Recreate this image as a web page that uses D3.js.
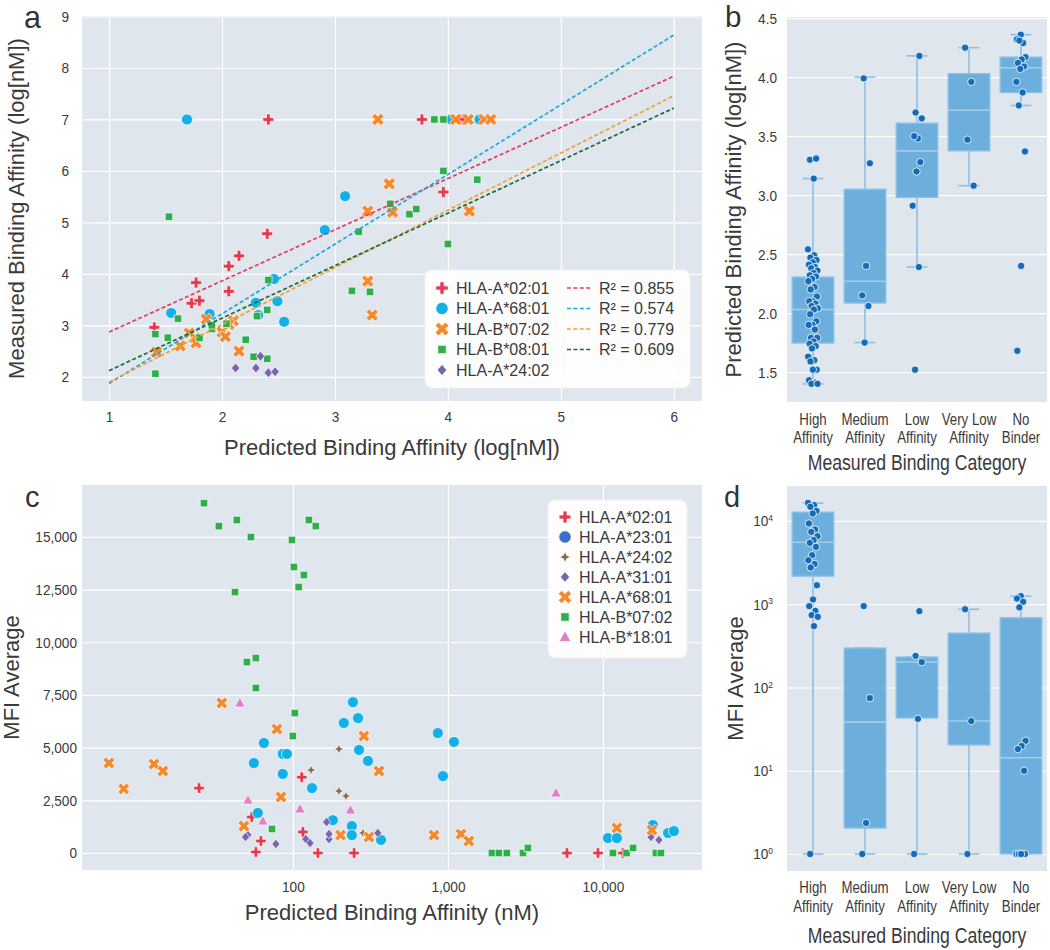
<!DOCTYPE html>
<html><head><meta charset="utf-8">
<script src="https://cdn.jsdelivr.net/npm/d3@7"></script>
<style>body{margin:0;background:#fff;} svg{display:block;}</style>
</head><body>
<svg id="chart" width="1050" height="950"></svg>
<script>
// ---------------- DATA ----------------
// Panel a: [predicted log nM, measured log nM]
const aA0201 = [[2.41,7.0],[3.77,7.0],[4.10,7.0],[4.14,7.0],[3.96,5.59],[2.40,4.78],[2.06,4.15],[2.15,4.35],[1.77,3.83],[1.73,3.43],[1.80,3.48],[2.06,3.66],[1.40,2.96]];
const aA6801 = [[1.69,7.0],[4.03,7.0],[4.28,7.0],[3.09,5.51],[2.91,4.85],[2.46,3.90],[2.49,3.47],[2.55,3.07],[2.30,3.44],[2.32,3.20],[1.55,3.24],[1.89,3.22]];
const aB0702 = [[3.38,7.0],[4.07,7.0],[4.18,7.0],[4.32,7.0],[4.38,7.0],[3.48,5.75],[3.29,5.22],[3.51,5.20],[4.19,5.22],[3.29,3.86],[3.33,3.20],[1.42,2.48],[1.63,2.60],[1.71,2.85],[1.76,2.76],[1.77,2.66],[1.86,3.12],[2.00,2.87],[2.03,2.78],[2.10,3.09],[2.06,3.02],[2.15,2.50]];
const aB0801 = [[1.53,5.11],[3.88,7.0],[3.96,7.0],[3.96,6.0],[4.26,5.83],[3.49,5.36],[3.66,5.16],[3.72,5.26],[3.21,4.82],[4.00,4.58],[3.15,3.67],[3.31,3.65],[2.41,3.88],[2.40,3.30],[2.31,3.18],[1.61,3.13],[1.41,2.83],[1.52,2.76],[1.41,2.06],[1.91,2.93],[1.91,3.00],[2.04,3.03],[2.21,2.72],[2.28,2.39],[2.40,2.35],[1.80,2.76]];
const aA2402 = [[2.34,2.40],[2.12,2.17],[2.30,2.17],[2.41,2.08],[2.47,2.10]];
const aFitSlope = [0.994, 1.354, 1.112, 1.020];
const aFitIntercept = [1.876, 0.516, 0.788, 1.100];
const aFitR2 = ["0.855", "0.574", "0.779", "0.609"];
const aXTicks = [1,2,3,4,5,6];
const aYTicks = [2,3,4,5,6,7,8,9];

// Panel b: predicted log nM by measured category
const categories = ["High Affinity","Medium Affinity","Low Affinity","Very Low Affinity","No Binder"];
const catLabels = [["High","Affinity"],["Medium","Affinity"],["Low","Affinity"],["Very Low","Affinity"],["No","Binder"]];
const bQ1 = [1.746, 2.085, 2.98, 3.375, 3.87];
const bMedian = [2.03, 2.27, 3.375, 3.72, 4.08];
const bQ3 = [2.305, 3.05, 3.61, 4.03, 4.17];
const bWhiskerLo = [1.40, 1.75, 2.39, 3.08, 3.76];
const bWhiskerHi = [3.14, 4.00, 4.18, 4.25, 4.36];
const bHigh = [2.54,2.49,2.47,2.45,2.43,2.41,2.39,2.38,2.36,2.34,2.32,2.31,2.29,2.27,2.22,2.20,2.14,2.10,2.10,2.08,2.06,2.04,2.03,1.99,1.93,1.90,1.90,1.86,1.79,1.79,1.76,1.74,1.72,1.70,1.63,1.60,1.59,1.52,1.52,1.43,1.41,1.40,1.40,3.14,3.30,3.31];
const bMedium = [3.99,3.27,2.40,2.15,2.06,1.75];
const bLow = [4.18,3.70,3.65,3.48,3.50,3.28,3.20,2.91,2.39,1.52];
const bVeryLow = [4.25,3.96,3.47,3.08];
const bNoBinder = [4.36,4.32,4.29,4.31,4.17,4.15,4.12,4.09,4.07,3.96,3.87,3.76,3.37,2.40,1.68];
const bYTicks = [1.5,2.0,2.5,3.0,3.5,4.0,4.5];

// Panel c: [predicted nM, MFI average]
const cA0201 = [[24.8,3080],[114,3600],[54.3,1710],[62.2,570],[57.7,50],[116,1000],[145,0],[248,0],[5860,0],[9290,0],[13450,0]];
const cA2301 = [[65,5220],[56,4270],[86,4700],[91.5,4700],[86,3750],[132.7,3080],[59.4,1900],[181,1560],[244,7160],[263,6400],[213,6170],[267,4890],[305,4370],[240,1280],[240,850],[370,620],[861,5690],[1094,5270],[929,3650],[10770,710],[12300,710],[21000,1330],[26300,950],[28700,1040]];
const cA2402 = [[198,4930],[131,3940],[198,2940],[220,2700],[283,950]];
const cA3101 = [[51.3,850],[49.5,760],[77.7,430],[121,660],[129,470],[165,1470],[171,660],[171,900],[353,950],[20400,760],[22960,620]];
const cA6801 = [[6.5,4270],[8.1,3040],[12.7,4220],[14.5,3890],[34.8,7120],[78.9,5880],[83.8,2660],[48.3,1280],[203,850],[287,5550],[359,3890],[309,760],[813,850],[1214,900],[1365,570],[12300,1190],[20700,1090]];
const cB0702 = [[26.7,16600],[33.3,15510],[43.5,15800],[53.6,14990],[42.3,12380],[50.5,9060],[57.7,9250],[57.7,7830],[98.6,14850],[101.5,13570],[117.8,13190],[109,12620],[126.8,15800],[140.6,15510],[103,6640],[100,5550],[73.3,1140],[1923,0],[2133,0],[2400,0],[3048,0],[3280,240],[11600,0],[14200,0],[15640,240],[21960,0],[23650,0]];
const cB1801 = [[45.5,7120],[51.3,2510],[64,1520],[111,2090],[235,2040],[4980,2850]];
const cXTicks = [100,1000,10000];
const cYTicks = [0,2500,5000,7500,10000,12500,15000];

// Panel d: MFI average by measured category
const dQ1 = [2175, 2.05, 43, 20.4, 1];
const dMedian = [5560, 38.4, 202, 39.5, 14.3];
const dQ3 = [12760, 297, 232, 450, 687];
const dWhiskerLo = [1, 1, 1, 1, 1];
const dWhiskerHi = [16370, 297, 232, 870, 1250];
const dHigh = [16500,15500,14800,13200,12300,9330,7900,7400,6560,5890,5460,4890,3880,3380,3030,2760,1690,1140,948,832,740,706,546,1];
const dMedium = [950,74.6,2.36,1];
const dLow = [826,240,202,42,1];
const dVeryLow = [870,39.5,1];
const dNoBinder = [1250,1170,1070,916,22.9,19.8,18.2,10,1,1,1,1,1,1];
const dYTicks = [1,10,100,1000,10000];

// ---------------- STYLE ----------------
const BG = "#dfe6ee";
const TEXT = "#3a3a3a";
const LABEL_FONT = "'Liberation Sans', Arial, Helvetica, sans-serif";
const TICK_SIZE = 15.5, TICK_SQUEEZE = 0.88;      // condensed numeric tick labels
const CAT_SIZE = 16.2, CAT_SQUEEZE = 0.82;         // condensed category labels
const CATTITLE_SIZE = 21.5, CATTITLE_SQUEEZE = 0.82;

const svg = d3.select("#chart");

function markerPath(type, s){
  const h = s/2;
  if (type === "circle") return d3.symbol(d3.symbolCircle, Math.PI*h*h)();
  if (type === "plus" || type === "x"){
    const w = s/6;
    let pts = [[-w,-h],[w,-h],[w,-w],[h,-w],[h,w],[w,w],[w,h],[-w,h],[-w,w],[-h,w],[-h,-w],[-w,-w]];
    if (type === "x"){ const c = Math.SQRT1_2; pts = pts.map(([x,y]) => [(x-y)*c,(x+y)*c]); }
    return "M" + pts.map(p => p[0].toFixed(2)+","+p[1].toFixed(2)).join("L") + "Z";
  }
  if (type === "square") return `M${-h},${-h}H${h}V${h}H${-h}Z`;
  if (type === "diamond") return `M0,${-h}L${h*0.85},0L0,${h}L${-h*0.85},0Z`;
  if (type === "triangle") return `M0,${-h}L${h*0.95},${h*0.72}L${-h*0.95},${h*0.72}Z`;
  if (type === "star4"){ const t = h*0.3; return `M0,${-h}L${t},${-t}L${h},0L${t},${t}L0,${h}L${-t},${t}L${-h},0L${-t},${-t}Z`; }
}

// squeeze tick text horizontally (condensed look) keeping its anchor position
function squeezeTicks(sel, size, f){
  sel.selectAll(".tick text").each(function(){
    const t = d3.select(this);
    const x = +(t.attr("x") || 0);
    t.attr("x", x / f).attr("transform", `scale(${f},1)`)
      .style("font-family", LABEL_FONT).style("font-size", size + "px").attr("fill", TEXT);
  });
}
function styleAxis(sel){
  sel.select(".domain").remove();
  sel.selectAll(".tick line").attr("stroke","#ffffff").attr("stroke-width",1.2);
  squeezeTicks(sel, TICK_SIZE, TICK_SQUEEZE);
}
function bgRect(g,P){
  g.append("rect").attr("x",P.x0).attr("y",P.y0).attr("width",P.x1-P.x0).attr("height",P.y1-P.y0).attr("fill",BG);
}
function label(g, txt, x, y, rot, size, squeeze){
  return g.append("text").attr("transform",`translate(${x},${y})` + (rot?" rotate(-90)":"") + (squeeze?` scale(${squeeze},1)`:""))
    .attr("text-anchor","middle").attr("fill",TEXT).style("font-family",LABEL_FONT).style("font-size",(size||22)+"px").text(txt);
}
function panelLetter(txt,x,y,size){
  svg.append("text").attr("x",x).attr("y",y).attr("fill","#333").style("font-family",LABEL_FONT).style("font-size",size+"px").text(txt);
}

// ---------------- PANEL A ----------------
const A = {x0:82, x1:702, y0:16, y1:401};
const ax = d3.scaleLinear().domain([0.76, 6.25]).range([A.x0, A.x1]);
const ay = d3.scaleLinear().domain([1.53, 9.01]).range([A.y1, A.y0]);
const gA = svg.append("g");
bgRect(gA, A);
gA.append("g").attr("transform",`translate(0,${A.y1})`)
  .call(d3.axisBottom(ax).tickValues(aXTicks).tickSize(-(A.y1-A.y0)).tickPadding(10).tickFormat(d3.format("d"))).call(styleAxis);
gA.append("g").attr("transform",`translate(${A.x0},0)`)
  .call(d3.axisLeft(ay).tickValues(aYTicks).tickSize(-(A.x1-A.x0)).tickPadding(13).tickFormat(d3.format("d"))).call(styleAxis);

const aSeries = [
  {name:"HLA-A*02:01", data:aA0201, marker:"plus", size:11, color:"#e63950"},
  {name:"HLA-A*68:01", data:aA6801, marker:"circle", size:11, color:"#11b1e7"},
  {name:"HLA-B*07:02", data:aB0702, marker:"x", size:13, color:"#f5892c"},
  {name:"HLA-B*08:01", data:aB0801, marker:"square", size:7.5, color:"#2eaf4c"},
  {name:"HLA-A*24:02", data:aA2402, marker:"diamond", size:10, color:"#7b62b3"}
];
const aFitColors = ["#e23d62","#19a9de","#f0a033","#1c6b30"];
aSeries.forEach(s => {
  gA.append("g").selectAll("path").data(s.data).join("path")
    .attr("d", markerPath(s.marker, s.size))
    .attr("transform", d => `translate(${ax(d[0])},${ay(d[1])})`)
    .attr("fill", s.color).attr("stroke","#fff").attr("stroke-width",0.7);
});
const fitLine = d3.line().x(d => ax(d[0])).y(d => ay(d[1]));
aFitSlope.forEach((m,i) => {
  const b = aFitIntercept[i];
  gA.append("path").datum([[1, m*1+b],[6, m*6+b]]).attr("d", fitLine)
    .attr("stroke", aFitColors[i]).attr("stroke-width",1.7).attr("stroke-dasharray","4,2.4").attr("fill","none");
});
// legend a
const legA = gA.append("g");
legA.append("rect").attr("x",425).attr("y",270).attr("width",265).attr("height",118).attr("rx",7)
  .attr("fill","#ffffff").attr("fill-opacity",0.92).attr("stroke","#f0f0f0");
aSeries.forEach((s,i) => {
  const y = 288 + i*20.5;
  legA.append("path").attr("d", markerPath(s.marker, s.size*1.12)).attr("transform",`translate(442,${y})`)
    .attr("fill", s.color).attr("stroke","#fff").attr("stroke-width",0.7);
  legA.append("text").attr("x",456).attr("y",y).attr("dy","0.36em").attr("fill",TEXT)
    .style("font-family",LABEL_FONT).style("font-size","16px").text(s.name);
});
aFitR2.forEach((r,i) => {
  const y = 288 + i*20.5;
  legA.append("line").attr("x1",567).attr("x2",592).attr("y1",y).attr("y2",y)
    .attr("stroke",aFitColors[i]).attr("stroke-width",1.7).attr("stroke-dasharray","4,2.4");
  legA.append("text").attr("x",599).attr("y",y).attr("dy","0.36em").attr("fill",TEXT)
    .style("font-family",LABEL_FONT).style("font-size","16px").text("R² = " + r);
});
label(gA, "Predicted Binding Affinity (log[nM])", (A.x0+A.x1)/2, 455, false);
label(gA, "Measured Binding Affinity (log[nM])", 24, (A.y0+A.y1)/2, true);
panelLetter("a", 24, 28, 30.5);

// ---------------- BOX PANELS ----------------
const BOX_FILL = "#6caedc", BOX_EDGE = "#8dc0e5", WHISK = "#8dbfe3", MED = "#a4cdea", DOT = "#136cb9";
function boxPanel(P, yScale, q1, med, q3, wlo, whi, points, yTicks, yFmt, yPad, lblY1, lblY2){
  const g = svg.append("g");
  bgRect(g, P);
  const bx = d3.scaleBand().domain(categories).range([P.x0, P.x1]).padding(0);
  const yAxis = d3.axisLeft(yScale).tickValues(yTicks).tickSize(-(P.x1-P.x0)).tickPadding(yPad).tickFormat(yFmt);
  g.append("g").attr("transform",`translate(${P.x0},0)`).call(yAxis).call(styleAxis);
  const xa = g.append("g").attr("transform",`translate(0,${P.y1})`)
    .call(d3.axisBottom(bx).tickSize(0).tickFormat(() => ""));
  xa.select(".domain").remove();
  xa.selectAll(".tick line").remove();
  xa.selectAll(".tick text").each(function(d,i){
    const t = d3.select(this).attr("y",null).attr("dy",null).attr("x",null)
      .attr("transform",`scale(${CAT_SQUEEZE},1)`).attr("fill",TEXT)
      .style("font-family",LABEL_FONT).style("font-size",CAT_SIZE+"px");
    t.append("tspan").attr("x",0).attr("y",lblY1).text(catLabels[i][0]);
    t.append("tspan").attr("x",0).attr("y",lblY2).text(catLabels[i][1]);
  });
  const bw = bx.bandwidth()*0.8;
  categories.forEach((c,i) => {
    const cx = bx(c) + bx.bandwidth()/2;
    const cap = bw/2;
    const seg = (x1,y1,x2,y2,col) => g.append("line").attr("x1",x1).attr("y1",y1).attr("x2",x2).attr("y2",y2)
      .attr("stroke",col).attr("stroke-width",1.6);
    seg(cx, yScale(wlo[i]), cx, yScale(q1[i]), WHISK);
    seg(cx, yScale(q3[i]), cx, yScale(whi[i]), WHISK);
    seg(cx-cap/2, yScale(wlo[i]), cx+cap/2, yScale(wlo[i]), WHISK);
    seg(cx-cap/2, yScale(whi[i]), cx+cap/2, yScale(whi[i]), WHISK);
    g.append("rect").attr("x",cx-bw/2).attr("y",yScale(q3[i])).attr("width",bw)
      .attr("height",yScale(q1[i])-yScale(q3[i])).attr("fill",BOX_FILL).attr("stroke",BOX_EDGE).attr("stroke-width",1.3);
    seg(cx-bw/2, yScale(med[i]), cx+bw/2, yScale(med[i]), MED);
    g.append("g").selectAll("circle").data(points[i]).join("circle")
      .attr("cx", (d,j) => cx + (((j*0.618034 + i*0.37) % 1) - 0.5) * 10)
      .attr("cy", d => yScale(d)).attr("r",3.7)
      .attr("fill",DOT).attr("stroke","#fff").attr("stroke-width",0.8);
  });
  return g;
}

// Panel b
const B = {x0:787, x1:1047, y0:17, y1:402};
const by = d3.scaleLinear().domain([1.246, 4.51]).range([B.y1, B.y0]);
const gB = boxPanel(B, by, bQ1, bMedian, bQ3, bWhiskerLo, bWhiskerHi,
  [bHigh,bMedium,bLow,bVeryLow,bNoBinder], bYTicks, d3.format(".1f"), 10, 23, 41);
label(gB, "Measured Binding Category", (B.x0+B.x1)/2, 470, false, CATTITLE_SIZE, CATTITLE_SQUEEZE);
label(gB, "Predicted Binding Affinity (log[nM])", 741, (B.y0+B.y1)/2, true);
panelLetter("b", 725, 27, 29.5);

// ---------------- PANEL C ----------------
const C = {x0:82, x1:702, y0:485, y1:870};
const cx = d3.scaleLog().domain([4.36, 43550]).range([C.x0, C.x1]);
const cy = d3.scaleLinear().domain([-806, 17460]).range([C.y1, C.y0]);
const gC = svg.append("g");
bgRect(gC, C);
gC.append("g").attr("transform",`translate(0,${C.y1})`)
  .call(d3.axisBottom(cx).tickValues(cXTicks).tickSize(-(C.y1-C.y0)).tickPadding(11).tickFormat(d3.format(","))).call(styleAxis);
gC.append("g").attr("transform",`translate(${C.x0},0)`)
  .call(d3.axisLeft(cy).tickValues(cYTicks).tickSize(-(C.x1-C.x0)).tickPadding(5).tickFormat(d3.format(","))).call(styleAxis);
const cSeries = [
  {name:"HLA-A*02:01", data:cA0201, marker:"plus", size:10.5, color:"#e63950"},
  {name:"HLA-A*23:01", data:cA2301, marker:"circle", size:11, color:"#11b1e7", legendColor:"#3f6fc4"},
  {name:"HLA-A*24:02", data:cA2402, marker:"star4", size:10, color:"#8c6a4f"},
  {name:"HLA-A*31:01", data:cA3101, marker:"diamond", size:9.5, color:"#7b62b3"},
  {name:"HLA-A*68:01", data:cA6801, marker:"x", size:12.5, color:"#f5892c"},
  {name:"HLA-B*07:02", data:cB0702, marker:"square", size:7.5, color:"#2eaf4c"},
  {name:"HLA-B*18:01", data:cB1801, marker:"triangle", size:11, color:"#e27ec3"}
];
cSeries.forEach(s => {
  gC.append("g").selectAll("path").data(s.data).join("path")
    .attr("d", markerPath(s.marker, s.size))
    .attr("transform", d => `translate(${cx(d[0])},${cy(d[1])})`)
    .attr("fill", s.color).attr("stroke","#fff").attr("stroke-width",0.7);
});
const legC = gC.append("g");
legC.append("rect").attr("x",548).attr("y",500).attr("width",139).attr("height",158).attr("rx",7)
  .attr("fill","#ffffff").attr("fill-opacity",0.92).attr("stroke","#f0f0f0");
cSeries.forEach((s,i) => {
  const y = 517 + i*20;
  legC.append("path").attr("d", markerPath(s.marker, s.size*1.12)).attr("transform",`translate(565,${y})`)
    .attr("fill", s.legendColor || s.color).attr("stroke","#fff").attr("stroke-width",0.7);
  legC.append("text").attr("x",579).attr("y",y).attr("dy","0.36em").attr("fill",TEXT)
    .style("font-family",LABEL_FONT).style("font-size","16px").text(s.name);
});
label(gC, "Predicted Binding Affinity (nM)", (C.x0+C.x1)/2, 920, false);
label(gC, "MFI Average", 19, (C.y0+C.y1)/2, true);
panelLetter("c", 25, 507, 29);

// ---------------- PANEL D ----------------
const D = {x0:787, x1:1047, y0:486, y1:871};
const dy = d3.scaleLog().domain([0.625, 26300]).range([D.y1, D.y0]);
const gD = boxPanel(D, dy, dQ1, dMedian, dQ3, dWhiskerLo, dWhiskerHi,
  [dHigh,dMedium,dLow,dVeryLow,dNoBinder], dYTicks, () => "", 14, 22, 41);
gD.select("g").selectAll(".tick text").each(function(d){
  const t = d3.select(this);
  t.append("tspan").text("10");
  t.append("tspan").attr("dy","-0.55em").style("font-size",(TICK_SIZE*0.62)+"px").text(Math.round(Math.log10(d)));
});
label(gD, "Measured Binding Category", (D.x0+D.x1)/2, 943, false, CATTITLE_SIZE, CATTITLE_SQUEEZE);
label(gD, "MFI Average", 743, (D.y0+D.y1)/2, true);
panelLetter("d", 724, 507, 29);
</script>
</body></html>
